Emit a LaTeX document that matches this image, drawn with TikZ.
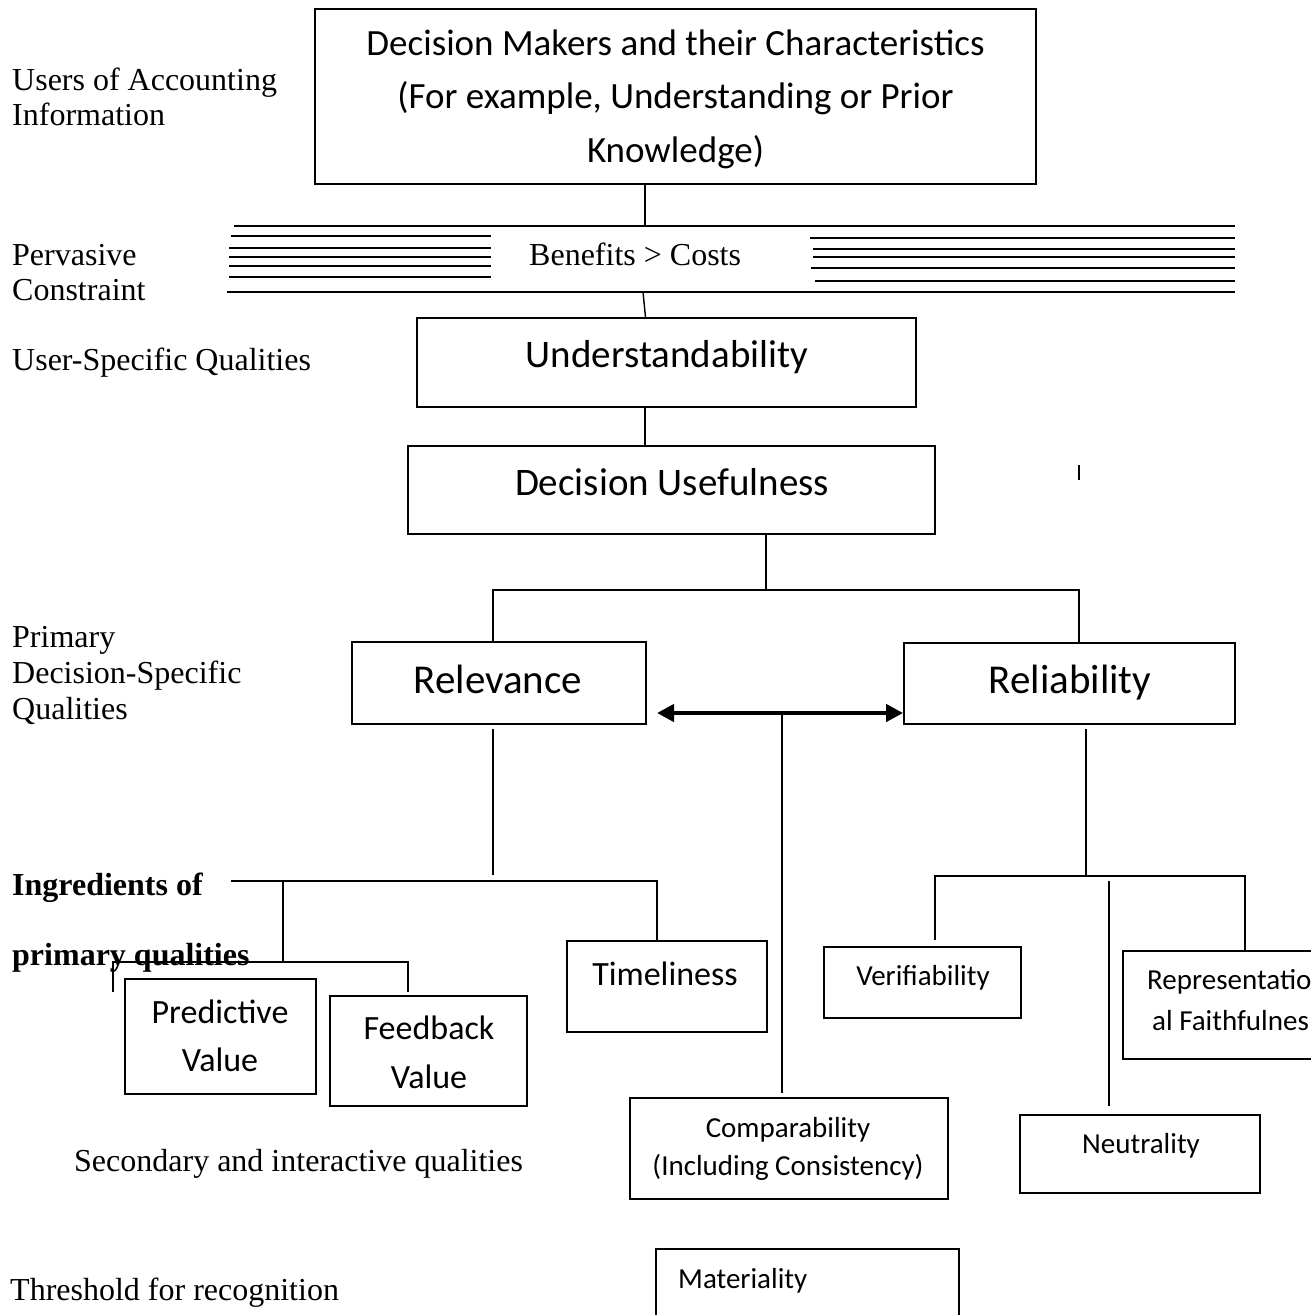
\documentclass[tikz,border=0pt]{standalone}
\usepackage{fontspec}
\setmainfont{Liberation Serif}
\newfontfamily\boxfont{Carlito}
\usetikzlibrary{arrows.meta}

\begin{document}
\begin{tikzpicture}[x=1pt,y=-1pt,
  box/.style={draw, line width=1.8pt, rectangle, inner sep=0pt},
  link/.style={line width=1.4pt},
  rule/.style={line width=1.8pt},
  lbl/.style={anchor=base west, inner sep=0pt, font=\fontsize{32}{36}\selectfont},
  blbl/.style={lbl, font=\fontsize{32}{36}\selectfont\bfseries},
  txt/.style={anchor=base, inner sep=0pt},
  fxl/.style={txt, font=\boxfont\fontsize{41}{48}\selectfont},
  fl/.style={txt, font=\boxfont\fontsize{39}{46}\selectfont},
  fm/.style={txt, font=\boxfont\fontsize{37}{44}\selectfont},
  fs/.style={txt, font=\boxfont\fontsize{34}{40}\selectfont},
  fxs/.style={txt, font=\boxfont\fontsize{29}{34}\selectfont},
  dbl/.style={line width=4.2pt, {Triangle[length=17pt,width=17pt]}-{Triangle[length=17pt,width=17pt]}}
]
\useasboundingbox (0,0) rectangle (1311,1315);
\clip (0,0) rectangle (1311,1315);

% ---------- left-hand level labels ----------
\node[lbl] (lUsers1) at (12,90)  {Users of Accounting};
\node[lbl] (lUsers2) at (12,125) {Information};
\node[lbl] (lPerv1)  at (12,265) {Pervasive};
\node[lbl] (lPerv2)  at (12,300) {Constraint};
\node[lbl] (lUser)   at (12,370) {User-Specific Qualities};
\node[lbl] (lPrim1)  at (12,647) {Primary};
\node[lbl] (lPrim2)  at (12,683) {Decision-Specific};
\node[lbl] (lPrim3)  at (12,719) {Qualities};
\node[blbl] (lIng1)  at (12,895) {Ingredients of};
\node[blbl] (lIng2)  at (12,965) {primary qualities};
\node[lbl] (lSec)    at (74,1171) {Secondary and interactive qualities};
\node[lbl] (lThr)    at (10,1300) {Threshold for recognition};

% ---------- boxes ----------
\node[box, minimum width=721pt, minimum height=175pt] (top)  at (675.5,96.5) {};
\node[box, minimum width=499pt, minimum height=89pt]  (und)  at (666.5,362.5) {};
\node[box, minimum width=527pt, minimum height=88pt]  (du)   at (671.5,490) {};
\node[box, minimum width=294pt, minimum height=82pt]  (rel)  at (499,683) {};
\node[box, minimum width=331pt, minimum height=81pt]  (rly)  at (1069.5,683.5) {};
\node[box, minimum width=200pt, minimum height=91pt]  (tim)  at (667,986.5) {};
\node[box, minimum width=191pt, minimum height=115pt] (pred) at (220.5,1036.5) {};
\node[box, minimum width=197pt, minimum height=110pt] (feed) at (428.5,1051) {};
\node[box, minimum width=197pt, minimum height=71pt]  (ver)  at (922.5,982.5) {};
\node[box, minimum width=232pt, minimum height=108pt] (rep)  at (1239,1005) {};
\node[box, minimum width=240pt, minimum height=78pt]  (neu)  at (1140,1154) {};
\node[box, minimum width=318pt, minimum height=101pt] (comp) at (789,1148.5) {};
\node[box, minimum width=303pt, minimum height=91pt]  (mat)  at (807.5,1294.5) {};

% ---------- box texts ----------
\node[fm] (tTop1) at (675.5,55)  {Decision Makers and their Characteristics};
\node[fm] (tTop2) at (675.5,108) {(For example, Understanding or Prior};
\node[fm] (tTop3) at (675.5,162) {Knowledge)};
\node[fl] (tUnd)  at (667,367) {Understandability};
\node[fl] (tDu)   at (672,495) {Decision Usefulness};
\node[fxl] (tRel) at (498,693) {Relevance};
\node[fxl] (tRly) at (1070,693) {Reliability};
\node[fs] (tTim)  at (665,985) {Timeliness};
\node[fs] (tPr1)  at (220,1023) {Predictive};
\node[fs] (tPr2)  at (220,1071) {Value};
\node[fs] (tFb1)  at (429,1039) {Feedback};
\node[fs] (tFb2)  at (429,1088) {Value};
\node[fxs] (tVer) at (923,985) {Verifiability};
\node[fxs, anchor=base west] (tRep1) at (1147,989)  {Representatio};
\node[fxs, anchor=base west] (tRep2) at (1152,1030) {al Faithfulnes};
\node[fxs] (tNeu) at (1141,1153) {Neutrality};
\node[fxs] (tCo1) at (788,1137) {Comparability};
\node[fxs] (tCo2) at (788,1175) {(Including Consistency)};
\node[fxs, anchor=base west] (tMat) at (678,1288) {Materiality};

% ---------- pervasive constraint band ----------
\node[lbl] (tBen) at (529,265) {Benefits > Costs};
\draw[rule] (234,226) -- (1235,226);
\draw[rule] (227,292) -- (1235,292);
\foreach \yy/\xa in {236/231, 248/229, 257/229, 266/229, 277/229}
  \draw[rule] (\xa,\yy) -- (491,\yy);
\foreach \yy/\xa in {238/810, 249/813, 257/813, 268/811, 281/815}
  \draw[rule] (\xa,\yy) -- (1235,\yy);

% ---------- connectors ----------
\coordinate (kTop) at (645,226);
\draw[link] (top.south -| kTop) -- (kTop);
\coordinate (kLow) at (643,292);
\coordinate (kUnd) at (645.5,318);
\draw[link] (kLow) -- (kUnd |- und.north);
\coordinate (kU) at (645,0);
\draw[link] (und.south -| kU) -- (du.north -| kU);

\coordinate (kD) at (766,590);
\coordinate (kL) at (493,590);
\coordinate (kR) at (1079,590);
\draw[link] (du.south -| kD) -- (kD);
\draw[link] (rel.north -| kL) -- (kL) -- (kR) -- (rly.north -| kR);

\coordinate (tick1) at (1079,465);
\coordinate (tick2) at (1079,480);
\draw[line width=1.2pt] (tick1) -- (tick2);

% relevance <-> reliability trade-off
\coordinate (aL) at (657,713);
\draw[dbl] (aL) -- (rly.west |- aL);
\coordinate (aM) at (782,713);
\coordinate (aMb) at (782,1093);
\draw[link] (aM) -- (aMb);

% relevance branch
\coordinate (rv1) at (493,729);
\coordinate (rv2) at (493,875);
\draw[link] (rv1) -- (rv2);
\coordinate (h1) at (231,881);
\coordinate (h2) at (657,881);
\draw[link] (h1) -- (h2) -- (tim.north -| h2);
\coordinate (h3) at (283,881);
\coordinate (h4) at (283,963);
\draw[link] (h3) -- (h4);
\coordinate (h5) at (112,962);
\coordinate (h6) at (408,962);
\coordinate (h7) at (408,992);
\draw[link] (h5) -- (h6) -- (h7);
\coordinate (h8) at (113,962);
\coordinate (h9) at (113,992);
\draw[link] (h8) -- (h9);

% reliability branch
\coordinate (rb1) at (1086,729);
\coordinate (rb2) at (1086,875);
\draw[link] (rb1) -- (rb2);
\coordinate (rh1) at (935,876);
\coordinate (rh2) at (1245,876);
\coordinate (rh3) at (935,940);
\draw[link] (rh3) -- (rh1) -- (rh2) -- (rep.north -| rh2);
\coordinate (rm1) at (1109,881);
\coordinate (rm2) at (1109,1106);
\draw[link] (rm1) -- (rm2);
\end{tikzpicture}
\end{document}
